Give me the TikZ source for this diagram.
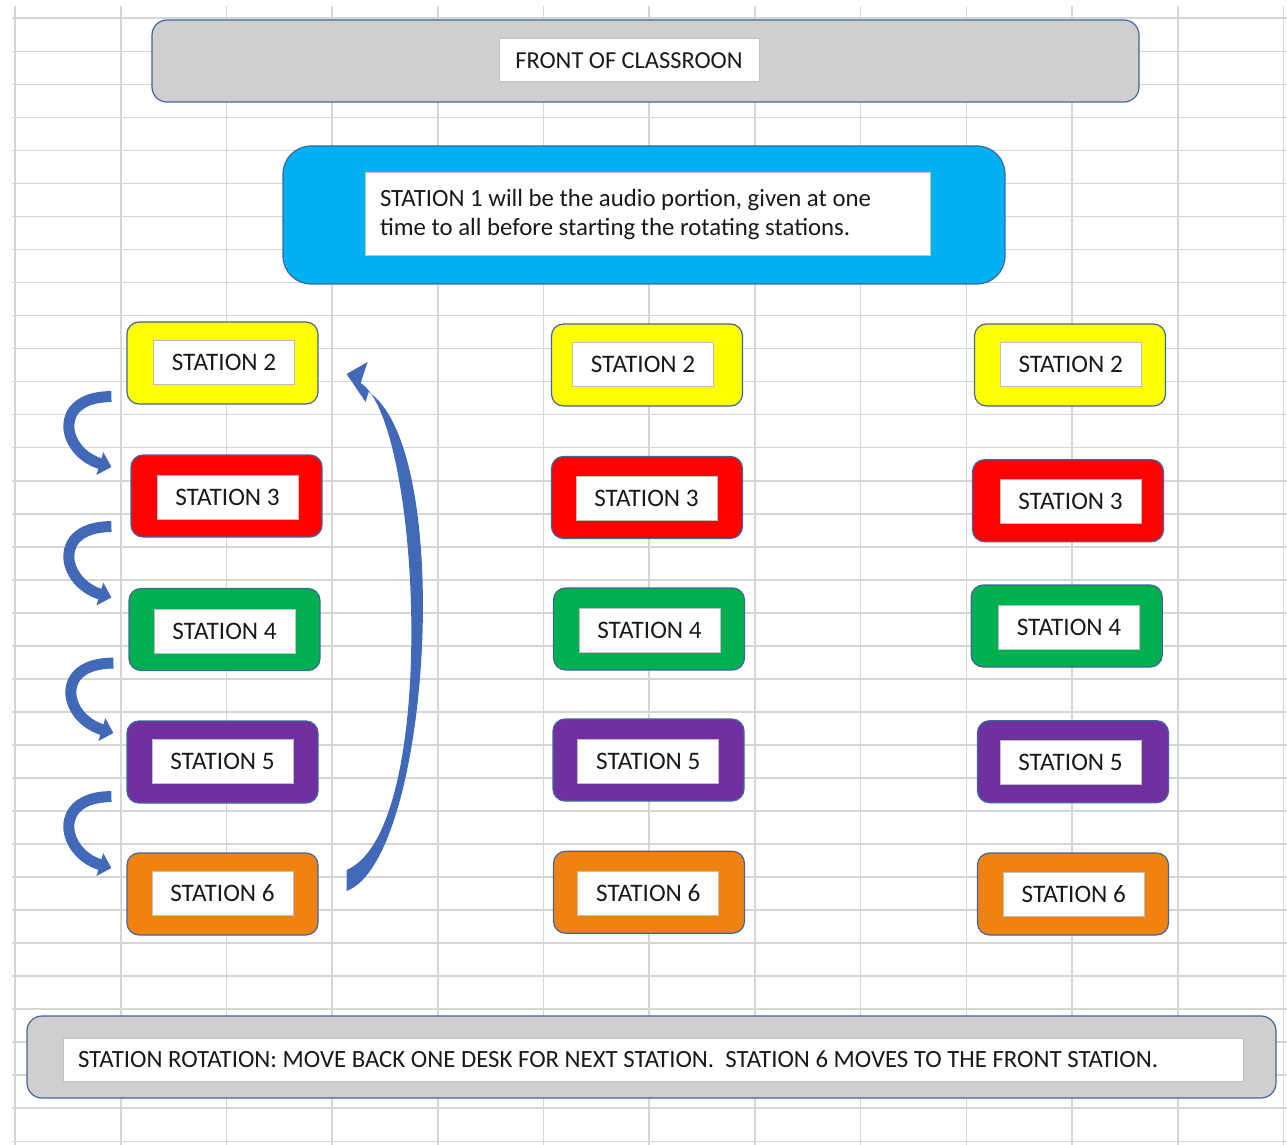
\documentclass[tikz,border=0pt]{standalone}
\usepackage{fontspec}
\setmainfont{Carlito}
\usepackage{xcolor}
\usetikzlibrary{arrows.meta}
\definecolor{gridgray}{HTML}{D6D6D6}
\definecolor{outline}{HTML}{41659E}
\definecolor{framegray}{HTML}{D0CECE}
\definecolor{audioblue}{HTML}{00B0F0}
\definecolor{stayellow}{HTML}{FFFF00}
\definecolor{stared}{HTML}{FF0000}
\definecolor{stagreen}{HTML}{00B050}
\definecolor{stapurple}{HTML}{7030A0}
\definecolor{staorange}{HTML}{F0820F}
\definecolor{arrowblue}{HTML}{4169B8}
\definecolor{labelline}{HTML}{BFBFBF}
\newcommand{\plainspaces}{\spaceskip=0pt\relax\xspaceskip=0pt\relax\frenchspacing}

\begin{document}
\begin{tikzpicture}[x=0.5pt, y=-0.5pt,
    gridline/.style={gridgray, line width=0.8pt},
    outerbox/.style={draw=outline, line width=0.6pt, rounded corners=6pt},
    stationbox/.style={outerbox, minimum width=95.5pt, minimum height=41pt},
    whitebox/.style={draw=labelline, line width=0.5pt, fill=white, inner sep=0pt, text=black!90, font=\fontsize{12.2}{14.5}\selectfont},
    notelabel/.style={whitebox, inner xsep=7.5pt, align=left, font=\fontsize{12.4}{14.5}\selectfont},
    stationlabel/.style={whitebox, minimum width=70.5pt, minimum height=22pt, font=\fontsize{12.6}{14.5}\selectfont},
    curl/.style={arrowblue, line width=5.5pt, -{Triangle[length=6pt, width=11.5pt]}}]
    \useasboundingbox (0,0) rectangle (1287,1145);
    \fill [white] (0,0) rectangle (1287,1145);
    \foreach \i in {0,...,12}
        \draw [gridline] ({15+105.7*\i},6) -- ({15+105.7*\i},1145);
    \foreach \j in {0,...,34}
        \draw [gridline] (12,{18.3+33.03*\j}) -- (1287,{18.3+33.03*\j});

    \node [outerbox, fill=framegray, rounded corners=7.5pt, minimum width=493.5pt, minimum height=41pt] (front) at (645.5,61) {};
    \node [whitebox, minimum width=130pt, minimum height=21.5pt] (frontlabel) at (629,60.5) {FRONT OF CLASSROON};

    \node [outerbox, fill=audioblue, rounded corners=14pt, minimum width=361pt, minimum height=69pt] (audio) at (644,215) {};
    \node [notelabel, text width=267.5pt, minimum height=41.5pt] (audiolabel) at (647.5,214.5) {\plainspaces STATION 1 will be the audio portion, given at one\\time to all before starting the rotating stations.};

    \node [stationbox, fill=stayellow] (l2) at (222.5,363) {};
    \node [stationlabel] (l2label) at (224,362.5) {STATION 2};
    \node [stationbox, fill=stared] (l3) at (226.5,496) {};
    \node [stationlabel] (l3label) at (227.5,497) {STATION 3};
    \node [stationbox, fill=stagreen] (l4) at (224.5,629.5) {};
    \node [stationlabel] (l4label) at (224.5,631.5) {STATION 4};
    \node [stationbox, fill=stapurple] (l5) at (222.5,762) {};
    \node [stationlabel] (l5label) at (222.5,761.5) {STATION 5};
    \node [stationbox, fill=staorange] (l6) at (222.5,894) {};
    \node [stationlabel] (l6label) at (222.5,893) {STATION 6};

    \node [stationbox, fill=stayellow] (m2) at (647,365) {};
    \node [stationlabel] (m2label) at (643,364) {STATION 2};
    \node [stationbox, fill=stared] (m3) at (647,497.5) {};
    \node [stationlabel] (m3label) at (646.5,498) {STATION 3};
    \node [stationbox, fill=stagreen] (m4) at (649,629) {};
    \node [stationlabel] (m4label) at (649.5,630) {STATION 4};
    \node [stationbox, fill=stapurple] (m5) at (648.5,760) {};
    \node [stationlabel] (m5label) at (648.3,761) {STATION 5};
    \node [stationbox, fill=staorange] (m6) at (649,892.3) {};
    \node [stationlabel] (m6label) at (648.3,893) {STATION 6};

    \node [stationbox, fill=stayellow] (r2) at (1070,365) {};
    \node [stationlabel] (r2label) at (1070.7,364.3) {STATION 2};
    \node [stationbox, fill=stared] (r3) at (1068,500.7) {};
    \node [stationlabel] (r3label) at (1070.5,501.5) {STATION 3};
    \node [stationbox, fill=stagreen] (r4) at (1066.7,626) {};
    \node [stationlabel] (r4label) at (1069,627) {STATION 4};
    \node [stationbox, fill=stapurple] (r5) at (1073,761.7) {};
    \node [stationlabel] (r5label) at (1070.5,762.5) {STATION 5};
    \node [stationbox, fill=staorange] (r6) at (1073,894) {};
    \node [stationlabel] (r6label) at (1073.8,894.5) {STATION 6};

    \node [outerbox, fill=framegray, rounded corners=7.5pt, minimum width=624.5pt, minimum height=41pt] (rotation) at (651.5,1057) {};
    \node [notelabel, text width=575pt, minimum height=21.5pt] (rotationlabel) at (653,1059.5) {\plainspaces STATION ROTATION: MOVE BACK ONE DESK FOR NEXT STATION.\ \ STATION 6 MOVES TO THE FRONT STATION.};

    \draw [curl] ([shift={(-15,-8)}]l2.south west) .. controls +(-60,0) and +(-50,-15) .. ([shift={(-19,-29)}]l3.west);
    \draw [curl] ([shift={(-19,-11)}]l3.south west) .. controls +(-60,0) and +(-50,-15) .. ([shift={(-17,-32)}]l4.west);
    \draw [curl] ([shift={(-15,-8)}]l4.south west) .. controls +(-60,0) and +(-50,-15) .. ([shift={(-13,-29)}]l5.west);
    \draw [curl] ([shift={(-15,-7)}]l5.south west) .. controls +(-60,0) and +(-50,-15) .. ([shift={(-15,-26)}]l6.west);
    \fill [arrowblue] ([shift={(28,-3)}]l6.east) .. controls +(84,-31) and +(87,58) .. ([shift={(50,29)}]l2.east) -- ([shift={(47,39)}]l2.east) -- ([shift={(28,11)}]l2.east) -- ([shift={(49,-1)}]l2.east) -- ([shift={(42,20)}]l2.east) .. controls +(60,37) and +(94,-40) .. ([shift={(28,-24)}]l6.east) -- cycle;
\end{tikzpicture}
\end{document}
